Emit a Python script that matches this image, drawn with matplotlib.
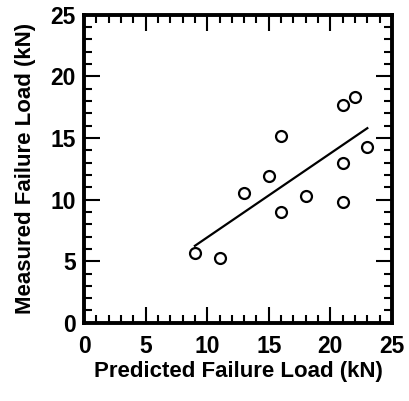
import numpy as np
import matplotlib
matplotlib.use("Agg")
import matplotlib.pyplot as plt
from matplotlib.ticker import MultipleLocator

plt.rcParams["font.family"] = ["Liberation Sans", "DejaVu Sans"]
plt.rcParams["font.weight"] = "bold"

predicted = [9, 11, 13, 15, 16, 16, 18, 21, 21, 21, 22, 23]
measured = [5.7, 5.3, 10.5, 11.9, 15.2, 9.0, 10.3, 17.7, 13.0, 9.8, 18.3, 14.3]
fit_x = [9, 23]
fit_y = [6.25, 15.8]

fig = plt.figure(figsize=(4.10, 4.01), dpi=100)
ax = fig.add_axes([0.205, 0.195, 0.751, 0.768])

ax.plot(fit_x, fit_y, color="black", lw=1.6, zorder=2)
ax.scatter(predicted, measured, s=62, facecolor="white", edgecolor="black",
           linewidth=1.6, zorder=3)

ax.set_xlim(0, 25)
ax.set_ylim(0, 25)
ax.xaxis.set_major_locator(MultipleLocator(5))
ax.xaxis.set_minor_locator(MultipleLocator(1))
ax.yaxis.set_major_locator(MultipleLocator(5))
ax.yaxis.set_minor_locator(MultipleLocator(1))

for s in ax.spines.values():
    s.set_linewidth(2.8)

ax.tick_params(which="both", direction="in", top=True, right=True,
               width=1.5, colors="black")
ax.tick_params(which="major", length=11.5, labelsize=16.5)
ax.tick_params(which="minor", length=5.8)
ax.tick_params(axis="x", which="major", pad=9)
ax.tick_params(axis="y", which="major", pad=6)

for lab in ax.get_xticklabels() + ax.get_yticklabels():
    lab.set_fontweight("bold")
ax.get_yticklabels()[0].set_fontsize(12)

ax.set_xlabel("Predicted Failure Load (kN)", fontsize=16, fontweight="bold",
              labelpad=2)
ax.set_ylabel("Measured Failure Load (kN)", fontsize=16, fontweight="bold",
              labelpad=10)

fig.savefig("out.png", dpi=100)
